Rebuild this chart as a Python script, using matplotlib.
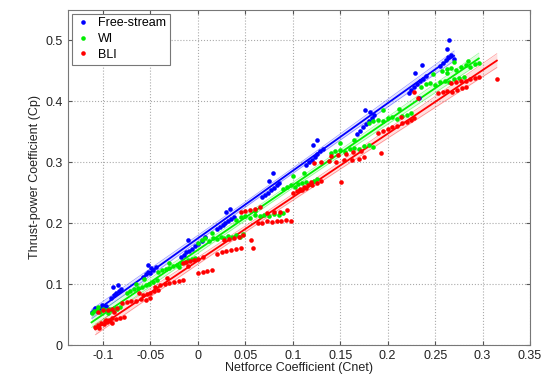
import numpy as np
import matplotlib.pyplot as plt

plt.rcParams['font.family'] = ['Liberation Sans', 'DejaVu Sans']

# Free-stream
fs_x = [-0.112, -0.109, -0.106, -0.103, -0.100, -0.097, -0.108, -0.101,
        -0.091, -0.088, -0.086, -0.083, -0.081, -0.089, -0.084,
        -0.058, -0.055, -0.052, -0.050, -0.047, -0.044, -0.053, -0.049,
        -0.018, -0.015, -0.012, -0.009, -0.006, -0.003, 0.000, 0.004, 0.008, -0.010,
        0.020, 0.023, 0.026, 0.029, 0.032, 0.035, 0.038, 0.030, 0.034,
        0.068, 0.071, 0.074, 0.077, 0.080, 0.083, 0.086, 0.079, 0.075,
        0.114, 0.117, 0.120, 0.123, 0.126, 0.129, 0.132, 0.126, 0.121,
        0.168, 0.171, 0.174, 0.177, 0.180, 0.183, 0.186, 0.176, 0.181,
        0.222, 0.225, 0.228, 0.231, 0.234, 0.237, 0.240, 0.229, 0.236, 0.233,
        0.255, 0.258, 0.261, 0.264, 0.267, 0.270, 0.263, 0.265]
fs_y = [0.055, 0.058, 0.056, 0.060, 0.062, 0.064, 0.061, 0.066,
        0.078, 0.082, 0.085, 0.088, 0.092, 0.096, 0.098,
        0.112, 0.116, 0.120, 0.118, 0.124, 0.128, 0.131, 0.126,
        0.145, 0.148, 0.152, 0.155, 0.158, 0.162, 0.166, 0.170, 0.177, 0.172,
        0.190, 0.193, 0.197, 0.200, 0.204, 0.207, 0.210, 0.218, 0.224,
        0.243, 0.246, 0.250, 0.254, 0.258, 0.262, 0.266, 0.282, 0.270,
        0.296, 0.300, 0.304, 0.309, 0.313, 0.318, 0.322, 0.336, 0.328,
        0.347, 0.352, 0.357, 0.362, 0.367, 0.372, 0.378, 0.385, 0.383,
        0.413, 0.418, 0.423, 0.428, 0.433, 0.437, 0.442, 0.446, 0.459, 0.405,
        0.458, 0.463, 0.468, 0.473, 0.476, 0.470, 0.486, 0.500]

# WI
wi_x = [-0.112, -0.109, -0.106, -0.103, -0.100, -0.097, -0.094, -0.091, -0.088, -0.085, -0.082, -0.105, -0.095,
        -0.075, -0.071, -0.067, -0.063, -0.059, -0.055, -0.051, -0.047, -0.043, -0.065, -0.057,
        -0.042, -0.038, -0.034, -0.030, -0.026, -0.022, -0.018, -0.014, -0.010, -0.006, -0.003, -0.030, -0.020,
        0.000, 0.004, 0.008, 0.012, 0.016, 0.020, 0.024, 0.028, 0.032, 0.036, 0.040, 0.044, 0.048, 0.015,
        0.040, 0.045, 0.050, 0.055, 0.060, 0.065, 0.070, 0.075, 0.080, 0.085, 0.090, 0.060,
        0.090, 0.094, 0.098, 0.102, 0.106, 0.110, 0.114, 0.118, 0.122, 0.126, 0.100, 0.112,
        0.140, 0.145, 0.150, 0.155, 0.160, 0.165, 0.170, 0.175, 0.180, 0.185, 0.150, 0.165,
        0.180, 0.185, 0.190, 0.195, 0.200, 0.205, 0.210, 0.215, 0.220, 0.225, 0.195, 0.212,
        0.235, 0.240, 0.245, 0.250, 0.255, 0.260, 0.265, 0.270, 0.275, 0.280, 0.248, 0.262,
        0.257, 0.262, 0.267, 0.272, 0.277, 0.282, 0.287, 0.292, 0.296, 0.270, 0.285]
wi_y = [0.053, 0.056, 0.058, 0.055, 0.059, 0.057, 0.060, 0.058, 0.061, 0.059, 0.062, 0.063, 0.052,
        0.086, 0.089, 0.092, 0.094, 0.096, 0.099, 0.101, 0.104, 0.107, 0.100, 0.108,
        0.120, 0.123, 0.125, 0.127, 0.130, 0.132, 0.134, 0.137, 0.139, 0.141, 0.143, 0.135, 0.128,
        0.168, 0.172, 0.175, 0.170, 0.176, 0.174, 0.178, 0.175, 0.179, 0.177, 0.180, 0.178, 0.182, 0.184,
        0.206, 0.210, 0.212, 0.208, 0.213, 0.211, 0.214, 0.212, 0.215, 0.213, 0.216, 0.220,
        0.256, 0.260, 0.262, 0.259, 0.264, 0.266, 0.268, 0.265, 0.270, 0.272, 0.278, 0.282,
        0.315, 0.318, 0.320, 0.317, 0.322, 0.324, 0.321, 0.326, 0.328, 0.325, 0.332, 0.336,
        0.364, 0.368, 0.370, 0.367, 0.372, 0.374, 0.371, 0.376, 0.378, 0.380, 0.385, 0.388,
        0.424, 0.428, 0.430, 0.427, 0.432, 0.434, 0.431, 0.436, 0.438, 0.440, 0.444, 0.446,
        0.450, 0.453, 0.455, 0.452, 0.457, 0.459, 0.456, 0.461, 0.463, 0.465, 0.466]

# BLI
bli_x = [-0.108, -0.105, -0.102, -0.099, -0.096, -0.093, -0.090, -0.104, -0.097,
         -0.098, -0.094, -0.090, -0.086, -0.082, -0.078, -0.088,
         -0.105, -0.100, -0.095, -0.090, -0.085,
         -0.080, -0.075, -0.070, -0.065, -0.060, -0.055, -0.050, -0.062,
         -0.058, -0.054, -0.050, -0.046, -0.042,
         -0.045, -0.040, -0.035, -0.030, -0.025, -0.020, -0.016, -0.032,
         -0.016, -0.012, -0.008, -0.004, 0.000, 0.005, -0.010,
         0.000, 0.005, 0.010, 0.015,
         0.020, 0.025, 0.030, 0.035, 0.040, 0.045, 0.058,
         0.028, 0.033, 0.038, 0.043, 0.048, 0.056,
         0.045, 0.050, 0.055, 0.060, 0.066,
         0.063, 0.068, 0.073, 0.078, 0.083, 0.088, 0.093, 0.098,
         0.073, 0.080, 0.087, 0.094,
         0.100, 0.104, 0.108, 0.112, 0.116, 0.119, 0.110,
         0.108, 0.114, 0.120, 0.126, 0.130, 0.151,
         0.122, 0.130, 0.138, 0.146, 0.154, 0.162, 0.170, 0.175,
         0.140, 0.148, 0.156, 0.164, 0.172, 0.193,
         0.190, 0.195, 0.200, 0.205, 0.210, 0.215, 0.220, 0.225, 0.228, 0.214,
         0.228, 0.232, 0.253, 0.258, 0.263, 0.268, 0.273, 0.278, 0.283,
         0.267, 0.272, 0.277, 0.282, 0.287, 0.292, 0.296, 0.315]
bli_y = [0.030, 0.033, 0.036, 0.034, 0.038, 0.040, 0.037, 0.028, 0.041,
         0.040, 0.042, 0.044, 0.043, 0.045, 0.046, 0.055,
         0.055, 0.057, 0.058, 0.060, 0.061,
         0.069, 0.071, 0.073, 0.072, 0.075, 0.074, 0.077, 0.085,
         0.082, 0.084, 0.086, 0.088, 0.090,
         0.095, 0.098, 0.100, 0.102, 0.104, 0.105, 0.107, 0.110,
         0.134, 0.136, 0.138, 0.140, 0.142, 0.144, 0.130,
         0.118, 0.120, 0.122, 0.123,
         0.150, 0.152, 0.154, 0.156, 0.158, 0.160, 0.159,
         0.172, 0.174, 0.176, 0.178, 0.180, 0.172,
         0.218, 0.220, 0.222, 0.224, 0.226,
         0.200, 0.201, 0.203, 0.202, 0.204, 0.203, 0.205, 0.204,
         0.216, 0.218, 0.219, 0.221,
         0.249, 0.252, 0.256, 0.259, 0.262, 0.267, 0.254,
         0.255, 0.258, 0.262, 0.266, 0.270, 0.267,
         0.298, 0.300, 0.302, 0.301, 0.304, 0.303, 0.306, 0.308,
         0.310, 0.312, 0.314, 0.316, 0.318, 0.315,
         0.348, 0.352, 0.355, 0.358, 0.360, 0.364, 0.366, 0.369, 0.372, 0.374,
         0.415, 0.405, 0.413, 0.415, 0.417, 0.416, 0.419, 0.421, 0.423,
         0.430, 0.432, 0.434, 0.433, 0.436, 0.438, 0.440, 0.437]

series = [('Free-stream', fs_x, fs_y, '#0000ff'),
          ('WI', wi_x, wi_y, '#00ee00'),
          ('BLI', bli_x, bli_y, '#ff0000')]

xticks = [-0.1, -0.05, 0, 0.05, 0.1, 0.15, 0.2, 0.25, 0.3, 0.35]
xticklabels = ['-0.1', '-0.05', '0', '0.05', '0.1', '0.15', '0.2', '0.25', '0.3', '0.35']
yticks = [0, 0.1, 0.2, 0.3, 0.4, 0.5]
yticklabels = ['0', '0.1', '0.2', '0.3', '0.4', '0.5']

fig = plt.figure(figsize=(5.51, 3.78), dpi=100)
ax = fig.add_axes([0.123, 0.087, 0.839, 0.887])

# linear fits with confidence bands, drawn under the points
for name, x, y, c in series:
    x = np.array(x)
    y = np.array(y)
    p, cov = np.polyfit(x, y, 1, cov=True)
    xf = np.linspace(x.min(), x.max(), 100)
    V = np.vander(xf, 2)
    yf = V @ p
    se = np.sqrt(np.sum((V @ cov) * V, axis=1))
    ax.fill_between(xf, yf - 4*se, yf + 4*se, color=c, alpha=0.12, lw=0)
    ax.plot(xf, yf - 4*se, color=c, lw=0.5, alpha=0.4)
    ax.plot(xf, yf + 4*se, color=c, lw=0.5, alpha=0.4)
    ax.plot(xf, yf, color=c, lw=1.3)

for name, x, y, c in series:
    ax.plot(x, y, 'o', color=c, ms=3.3, mew=0, label=name)

ax.set_xlim(-0.137, 0.35)
ax.set_ylim(0, 0.55)
ax.set_xticks(xticks)
ax.set_xticklabels(xticklabels)
ax.set_yticks(yticks)
ax.set_yticklabels(yticklabels)
ax.tick_params(direction='in', top=True, right=True, labelsize=9, length=3,
               color='#555555', labelcolor='#222222')
ax.grid(True, linestyle=':', color='#aaaaaa', linewidth=0.8)
ax.set_axisbelow(True)
for s in ax.spines.values():
    s.set_color('#777777')
    s.set_linewidth(0.8)

ax.set_xlabel('Netforce Coefficient (Cnet)', fontsize=9, labelpad=0, color='#222222')
ax.set_ylabel('Thrust-power Coefficient (Cp)', fontsize=9, labelpad=3, color='#222222')

leg = ax.legend(loc='upper left', fontsize=9, fancybox=False, framealpha=1,
                edgecolor='#777777', borderaxespad=0.3, handlelength=1.2,
                handletextpad=0.6, borderpad=0.3, labelspacing=0.3, markerscale=1)
leg.get_frame().set_linewidth(0.8)

plt.savefig('out.png', dpi=100)
